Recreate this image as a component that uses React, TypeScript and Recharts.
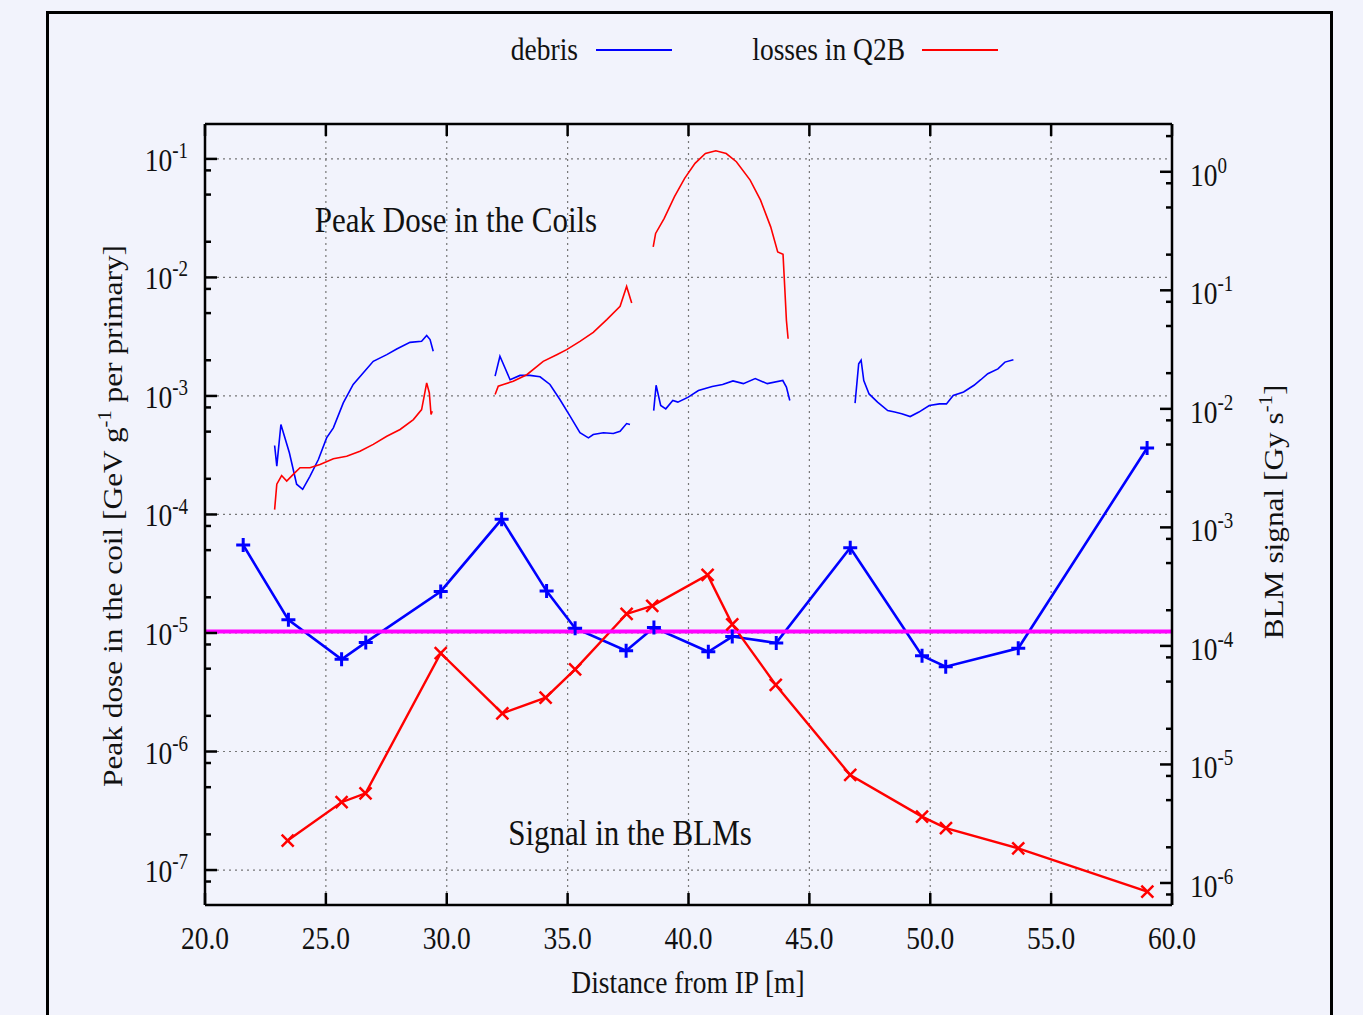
import React from 'react';
import { LineChart, Line, XAxis, YAxis, ReferenceLine } from 'recharts';

const W = 1363;
const H = 1015;
const BG = '#f2f3fc';
const FONT = '"Liberation Serif", "Times New Roman", serif';
const SY = 1.18;
const BLUE = '#0000ff';
const RED = '#ff0000';

const X_TICKS = [20, 25, 30, 35, 40, 45, 50, 55, 60];
const X_GRID = [25, 30, 35, 40, 45, 50, 55];
const LEFT_EXPS = [-7, -6, -5, -4, -3, -2, -1];
const RIGHT_EXPS = [-6, -5, -4, -3, -2, -1, 0];
const MINOR_MULTS = [2, 5, 8];
const LEFT_DOMAIN: [number, number] = [5.07e-8, 0.197];
const RIGHT_DOMAIN: [number, number] = [6.52e-7, 2.53];
const THRESHOLD = 1.03e-5;

// Peak dose in the coils (left axis) - debris
const debrisDoseA: [number, number][] = [
  [22.88, 3.82e-4], [22.97, 2.56e-4], [23.14, 5.74e-4], [23.49, 3.32e-4], [23.79, 1.8e-4],
  [24.04, 1.63e-4], [24.34, 2.1e-4], [24.69, 2.91e-4], [25.03, 4.43e-4], [25.31, 5.38e-4],
  [25.72, 8.74e-4], [26.13, 1.25e-3], [26.55, 1.57e-3], [26.96, 1.96e-3], [27.52, 2.23e-3],
  [27.93, 2.49e-3], [28.48, 2.83e-3], [28.96, 2.89e-3], [29.17, 3.23e-3], [29.31, 2.99e-3],
  [29.44, 2.38e-3],
];
const debrisDoseB: [number, number][] = [
  [32.0, 1.47e-3], [32.2, 2.16e-3], [32.62, 1.37e-3], [33.03, 1.49e-3], [33.44, 1.49e-3],
  [33.86, 1.45e-3], [34.27, 1.25e-3], [34.68, 9.33e-4], [35.1, 6.75e-4], [35.51, 4.89e-4],
  [35.86, 4.43e-4], [36.06, 4.73e-4], [36.48, 4.89e-4], [36.89, 4.82e-4], [37.17, 5.04e-4],
  [37.44, 5.85e-4], [37.58, 5.74e-4],
];
const debrisDoseC: [number, number][] = [
  [38.56, 7.53e-4], [38.66, 1.23e-3], [38.85, 8.3e-4], [39.06, 7.78e-4], [39.35, 9.16e-4],
  [39.56, 8.87e-4], [39.99, 9.77e-4], [40.41, 1.11e-3], [40.98, 1.2e-3], [41.41, 1.25e-3],
  [41.84, 1.34e-3], [42.27, 1.27e-3], [42.76, 1.4e-3], [43.26, 1.27e-3], [43.9, 1.35e-3],
  [44.05, 1.19e-3], [44.19, 9.16e-4],
];
const debrisDoseD: [number, number][] = [
  [46.89, 8.69e-4], [47.04, 1.87e-3], [47.14, 2.0e-3], [47.25, 1.35e-3], [47.47, 1.04e-3],
  [47.82, 8.87e-4], [48.24, 7.53e-4], [48.53, 7.31e-4], [48.82, 7.07e-4], [49.17, 6.7e-4],
  [49.53, 7.31e-4], [49.96, 8.3e-4], [50.38, 8.57e-4], [50.67, 8.57e-4], [50.95, 1.01e-3],
  [51.38, 1.08e-3], [51.81, 1.23e-3], [52.09, 1.37e-3], [52.38, 1.54e-3], [52.8, 1.69e-3],
  [53.09, 1.93e-3], [53.44, 2.02e-3],
];

// Peak dose in the coils (left axis) - losses in Q2B
const lossesDoseA: [number, number][] = [
  [22.88, 1.1e-4], [22.97, 1.8e-4], [23.17, 2.13e-4], [23.38, 1.91e-4], [23.65, 2.18e-4],
  [23.93, 2.48e-4], [24.34, 2.48e-4], [24.76, 2.64e-4], [25.31, 2.95e-4], [25.86, 3.1e-4],
  [26.41, 3.42e-4], [26.96, 3.9e-4], [27.52, 4.57e-4], [28.07, 5.21e-4], [28.62, 6.32e-4],
  [28.96, 7.68e-4], [29.17, 1.29e-3], [29.28, 1.06e-3], [29.35, 6.97e-4], [29.4, 7.43e-4],
];
const lossesDoseB: [number, number][] = [
  [32.0, 1.03e-3], [32.13, 1.21e-3], [32.34, 1.25e-3], [32.75, 1.33e-3], [33.31, 1.51e-3],
  [33.99, 1.96e-3], [34.55, 2.23e-3], [34.96, 2.46e-3], [35.51, 2.89e-3], [36.06, 3.44e-3],
  [36.62, 4.41e-3], [37.17, 5.7e-3], [37.44, 8.4e-3], [37.65, 6.08e-3],
];
const lossesDoseC: [number, number][] = [
  [38.54, 1.81e-2], [38.64, 2.35e-2], [38.99, 3.14e-2], [39.42, 4.8e-2], [39.84, 6.86e-2],
  [40.27, 9.17e-2], [40.7, 0.111], [41.13, 0.117], [41.56, 0.111], [41.98, 9.47e-2],
  [42.55, 6.62e-2], [42.98, 4.49e-2], [43.4, 2.67e-2], [43.69, 1.64e-2], [43.91, 1.57e-2],
  [43.98, 8.31e-3], [44.05, 4.35e-3], [44.12, 3.04e-3],
];

// Signal in the BLMs (right axis)
const blmX = [21.58, 23.45, 25.65, 26.65, 29.75, 32.27, 34.13, 35.31, 37.42, 38.57, 40.82, 41.81, 43.63, 46.69, 49.66, 50.64, 53.64, 58.97];
const blmDebris = [7.1e-4, 1.66e-4, 7.71e-5, 1.07e-4, 2.88e-4, 1.17e-3, 2.9e-4, 1.41e-4, 9.1e-5, 1.43e-4, 8.93e-5, 1.2e-4, 1.06e-4, 6.73e-4, 8.26e-5, 6.68e-5, 9.55e-5, 4.67e-3];
const blmLossX = [23.42, 25.65, 26.64, 29.75, 32.3, 34.09, 35.31, 37.44, 38.5, 40.79, 41.81, 43.61, 46.69, 49.66, 50.65, 53.64, 58.98];
const blmLosses = [2.28e-6, 4.8e-6, 5.71e-6, 8.68e-5, 2.7e-5, 3.66e-5, 6.35e-5, 1.86e-4, 2.18e-4, 3.97e-4, 1.52e-4, 4.69e-5, 8.15e-6, 3.63e-6, 2.9e-6, 1.96e-6, 8.45e-7];

const pts = (arr: [number, number][]) => arr.map(([x, y]) => ({ x, y }));
const zipPts = (xs: number[], ys: number[]) => xs.map((x, i) => ({ x, y: ys[i] }));

function logTicks(exps: number[], domain: [number, number]) {
  const out: number[] = [];
  for (let e = exps[0] - 1; e <= exps[exps.length - 1]; e++) {
    const base = Math.pow(10, e);
    if (base >= domain[0] && base <= domain[1]) out.push(base);
    for (const m of MINOR_MULTS) {
      const v = m * base;
      if (v >= domain[0] && v <= domain[1]) out.push(v);
    }
  }
  return out.sort((a, b) => a - b);
}
const LEFT_TICKS = logTicks(LEFT_EXPS, LEFT_DOMAIN);
const RIGHT_TICKS = logTicks(RIGHT_EXPS, RIGHT_DOMAIN);
const LEFT_GRID = LEFT_EXPS.map((e) => Math.pow(10, e));

const isMajor = (v: number) => {
  const l = Math.log10(v);
  return Math.abs(l - Math.round(l)) < 1e-9;
};

const PowerLabel = ({ x, y, exp, anchor }: any) => (
  <text
    transform={`translate(${x},${y}) scale(1,${SY})`}
    textAnchor={anchor}
    fontFamily={FONT}
    fontSize={27.5}
    fill="#111"
  >
    10<tspan dy={-11} fontSize={19}>{exp}</tspan>
  </text>
);

const LeftTick = (props: any) => {
  const { x, y, payload } = props;
  const v = payload.value;
  const major = isMajor(v);
  return (
    <g>
      <line x1={x} x2={x + (major ? 12 : 6)} y1={y} y2={y} stroke="#000" strokeWidth={2.5} />
      {major && <PowerLabel x={x - 17} y={y + 12} exp={String(Math.round(Math.log10(v)))} anchor="end" />}
    </g>
  );
};

const RightTick = (props: any) => {
  const { x, y, payload } = props;
  const v = payload.value;
  const major = isMajor(v);
  return (
    <g>
      <line x1={x} x2={x - (major ? 12 : 6)} y1={y} y2={y} stroke="#000" strokeWidth={2.5} />
      {major && <PowerLabel x={x + 18} y={y + 14} exp={String(Math.round(Math.log10(v)))} anchor="start" />}
    </g>
  );
};

const BottomTick = (props: any) => {
  const { x, y, payload } = props;
  return (
    <g>
      <line x1={x} x2={x} y1={y} y2={y - 12} stroke="#000" strokeWidth={2.5} />
      <text
        transform={`translate(${x},${y + 44}) scale(1,${SY})`}
        textAnchor="middle"
        fontFamily={FONT}
        fontSize={27.5}
        fill="#111"
      >
        {Number(payload.value).toFixed(1)}
      </text>
    </g>
  );
};

const TopTick = (props: any) => {
  const { x, y } = props;
  return <line x1={x} x2={x} y1={y} y2={y + 12} stroke="#000" strokeWidth={2.5} />;
};

const PlusDot = (p: any) => {
  const { cx, cy } = p;
  if (cx == null || cy == null) return null;
  const s = 7;
  return <path d={`M${cx - s},${cy}H${cx + s}M${cx},${cy - s}V${cy + s}`} stroke={BLUE} strokeWidth={3} fill="none" />;
};

const CrossDot = (p: any) => {
  const { cx, cy } = p;
  if (cx == null || cy == null) return null;
  const s = 6;
  return (
    <path
      d={`M${cx - s},${cy - s}L${cx + s},${cy + s}M${cx - s},${cy + s}L${cx + s},${cy - s}`}
      stroke={RED}
      strokeWidth={2.5}
      fill="none"
    />
  );
};

const doseSeries = [
  { id: 'dA', data: debrisDoseA, color: BLUE },
  { id: 'dB', data: debrisDoseB, color: BLUE },
  { id: 'dC', data: debrisDoseC, color: BLUE },
  { id: 'dD', data: debrisDoseD, color: BLUE },
  { id: 'lA', data: lossesDoseA, color: RED },
  { id: 'lB', data: lossesDoseB, color: RED },
  { id: 'lC', data: lossesDoseC, color: RED },
];

const txt = (x: number, y: number, s: string, size = 27.5, anchor = 'start') => (
  <text
    transform={`translate(${x},${y}) scale(1,${SY})`}
    textAnchor={anchor as any}
    fontFamily={FONT}
    fontSize={size}
    fill="#111"
  >
    {s}
  </text>
);

export default function App() {
  return (
    <div style={{ position: 'absolute', left: 0, top: 0, width: W, height: H, background: BG, overflow: 'hidden' }}>
      <div
        style={{
          position: 'absolute',
          left: 46,
          top: 11,
          width: 1287,
          height: 1100,
          boxSizing: 'border-box',
          border: '3px solid #000',
          borderBottom: 'none',
        }}
      />
      <div style={{ position: 'absolute', left: 0, top: 0 }}>
        <LineChart width={W} height={H} margin={{ top: 123, right: 0, bottom: 0, left: 0 }}>
          <XAxis
            dataKey="x"
            type="number"
            domain={[20, 60]}
            ticks={X_TICKS}
            interval={0}
            allowDataOverflow
            height={110}
            tickSize={0}
            tickMargin={0}
            tickLine={false}
            axisLine={{ stroke: '#000', strokeWidth: 2.5 }}
            tick={<BottomTick />}
          />
          <XAxis
            xAxisId="top"
            orientation="top"
            dataKey="x"
            type="number"
            domain={[20, 60]}
            ticks={X_TICKS}
            interval={0}
            allowDataOverflow
            height={1}
            tickSize={0}
            tickMargin={0}
            tickLine={false}
            axisLine={{ stroke: '#000', strokeWidth: 2.5 }}
            tick={<TopTick />}
          />
          <YAxis
            scale="log"
            type="number"
            domain={LEFT_DOMAIN}
            ticks={LEFT_TICKS}
            interval={0}
            allowDataOverflow
            width={205}
            tickSize={0}
            tickMargin={0}
            tickLine={false}
            axisLine={{ stroke: '#000', strokeWidth: 2.5 }}
            tick={<LeftTick />}
          />
          <YAxis
            yAxisId="right"
            orientation="right"
            scale="log"
            type="number"
            domain={RIGHT_DOMAIN}
            ticks={RIGHT_TICKS}
            interval={0}
            allowDataOverflow
            width={191}
            tickSize={0}
            tickMargin={0}
            tickLine={false}
            axisLine={{ stroke: '#000', strokeWidth: 2.5 }}
            tick={<RightTick />}
          />
          {X_GRID.map((v) => (
            <ReferenceLine key={`gx${v}`} x={v} stroke="#777" strokeWidth={1.2} strokeDasharray="2 4" />
          ))}
          {LEFT_GRID.map((v) => (
            <ReferenceLine key={`gy${v}`} y={v} stroke="#777" strokeWidth={1.2} strokeDasharray="2 4" />
          ))}
          {doseSeries.map((s) => (
            <Line
              key={s.id}
              data={pts(s.data)}
              dataKey="y"
              stroke={s.color}
              strokeWidth={1.6}
              dot={false}
              isAnimationActive={false}
            />
          ))}
          <Line
            yAxisId="right"
            data={zipPts(blmX, blmDebris)}
            dataKey="y"
            stroke={BLUE}
            strokeWidth={2.6}
            dot={(p: any) => <PlusDot key={`pd${p.index}`} {...p} />}
            isAnimationActive={false}
          />
          <Line
            yAxisId="right"
            data={zipPts(blmLossX, blmLosses)}
            dataKey="y"
            stroke={RED}
            strokeWidth={2.4}
            dot={(p: any) => <CrossDot key={`cd${p.index}`} {...p} />}
            isAnimationActive={false}
          />
          <ReferenceLine y={THRESHOLD} stroke="#ff00ff" strokeWidth={4} />
        </LineChart>
      </div>
      <svg width={W} height={H} style={{ position: 'absolute', left: 0, top: 0, pointerEvents: 'none' }}>
        {txt(578, 60, 'debris', 27.5, 'end')}
        <line x1={596} x2={672} y1={50} y2={50} stroke={BLUE} strokeWidth={2} />
        {txt(905, 60, 'losses in Q2B', 27.5, 'end')}
        <line x1={922} x2={998} y1={50} y2={50} stroke={RED} strokeWidth={2} />
        {txt(456, 232, 'Peak Dose in the Coils', 31, 'middle')}
        {txt(630, 845, 'Signal in the BLMs', 31, 'middle')}
        {txt(688, 993, 'Distance from IP [m]', 27.5, 'middle')}
        <text
          transform="translate(122,516) rotate(-90) scale(1.14,1)"
          textAnchor="middle"
          fontFamily={FONT}
          fontSize={27.5}
          fill="#111"
        >
          Peak dose in the coil [GeV g<tspan dy={-11} fontSize={18}>-1</tspan>
          <tspan dy={11}> per primary]</tspan>
        </text>
        <text
          transform="translate(1283,512) rotate(-90) scale(1.14,1)"
          textAnchor="middle"
          fontFamily={FONT}
          fontSize={27.5}
          fill="#111"
        >
          BLM signal [Gy s<tspan dy={-11} fontSize={18}>-1</tspan>
          <tspan dy={11}>]</tspan>
        </text>
      </svg>
    </div>
  );
}
